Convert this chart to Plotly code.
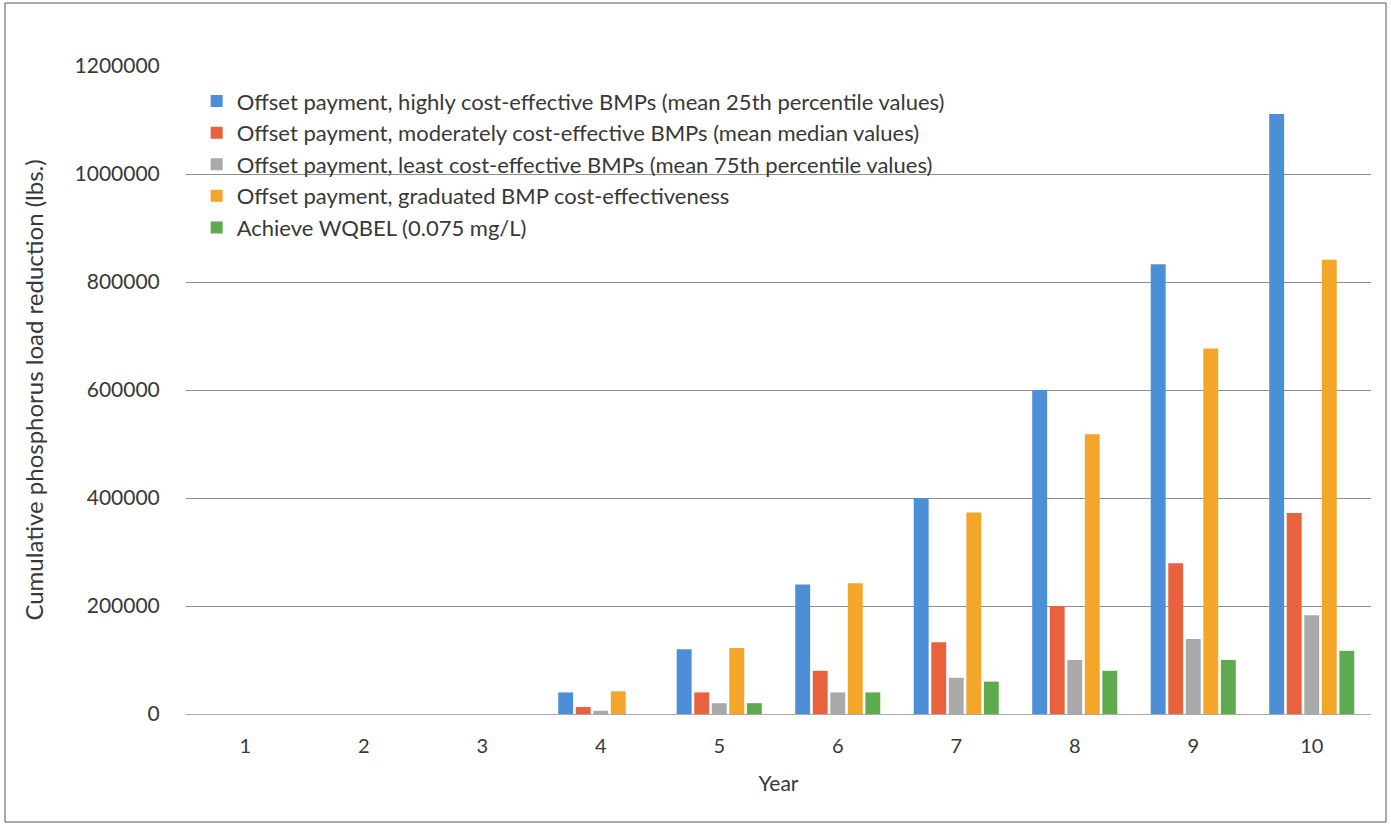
import plotly.graph_objects as go

# Cumulative phosphorus load reduction by year, per compliance scenario
years = ["1", "2", "3", "4", "5", "6", "7", "8", "9", "10"]

highly_ce = [0, 0, 0, 40000, 120000, 240000, 400000, 600000, 833000, 1111000]
moderately_ce = [0, 0, 0, 13000, 40000, 80000, 133000, 200000, 279000, 372000]
least_ce = [0, 0, 0, 6000, 20000, 40000, 67000, 100000, 139000, 183000]
graduated = [0, 0, 0, 42000, 122000, 242000, 373000, 518000, 677000, 841000]
wqbel = [0, 0, 0, 0, 20000, 40000, 60000, 80000, 100000, 117000]

series_names = [
    "Offset payment, highly cost-effective BMPs (mean 25th percentile values)",
    "Offset payment, moderately cost-effective BMPs (mean median values)",
    "Offset payment, least cost-effective BMPs (mean 75th percentile values)",
    "Offset payment, graduated BMP cost-effectiveness",
    "Achieve WQBEL (0.075 mg/L)",
]
series_values = [highly_ce, moderately_ce, least_ce, graduated, wqbel]
colors = ["#4C8FD6", "#E8623D", "#A9A9A9", "#F4A62A", "#5DAA4F"]

FONT = "Lato"
TEXT = "#383838"

fig = go.Figure()
for i, (name, vals, col) in enumerate(zip(series_names, series_values, colors)):
    fig.add_trace(go.Bar(
        x=years, y=vals, name=name, legendgroup=f"g{i}",
        marker=dict(color=col, line=dict(width=0)),
    ))

fig.update_layout(
    width=1391, height=828,
    barmode="group", bargap=0.26, bargroupgap=0.15,
    plot_bgcolor="white", paper_bgcolor="white",
    margin=dict(l=186, r=20, t=66, b=114),
    font=dict(family=FONT, size=20, color=TEXT),
    showlegend=True,
    legend=dict(
        x=0.009, y=0.978, xanchor="left", yanchor="top",
        bgcolor="rgba(255,255,255,0)", font=dict(size=22, color=TEXT),
        tracegroupgap=0, itemwidth=30,
    ),
    xaxis=dict(
        title=dict(text="Year", font=dict(size=21, color=TEXT), standoff=20),
        showgrid=False, zeroline=False, showline=False,
        tickfont=dict(size=20, color=TEXT),
        ticks="outside", ticklen=14, tickcolor="white",
    ),
    yaxis=dict(
        title=dict(text="Cumulative phosphorus load reduction (lbs.)",
                   font=dict(size=24, color=TEXT), standoff=24),
        range=[0, 1200000], dtick=200000, tickformat="d",
        showgrid=True, gridcolor="#8f8f8f", gridwidth=1,
        zeroline=True, zerolinecolor="#a8a8a8", zerolinewidth=1,
        showline=False,
        tickfont=dict(size=21, color=TEXT),
        ticks="outside", ticklen=21, tickcolor="white",
    ),
)

# thin frame around the whole chart
fig.add_shape(type="rect", xref="paper", yref="paper",
              x0=-181 / 1185, x1=1 + 15 / 1185, y0=-108 / 648, y1=1 + 63 / 648,
              line=dict(color="#555555", width=1), fillcolor="rgba(0,0,0,0)",
              layer="below")

fig.write_html("out.html")
